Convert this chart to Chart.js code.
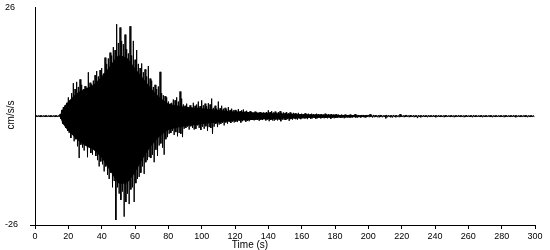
<!DOCTYPE html>
<html>
<head>
<meta charset="utf-8">
<script src="https://cdn.jsdelivr.net/npm/chart.js@4/dist/chart.umd.min.js"></script>
<style>
  html, body { margin: 0; padding: 0; background: #fff; }
  #wrap { width: 550px; height: 250px; }
</style>
</head>
<body>
<div id="wrap"><canvas id="accChart" width="550" height="250"></canvas></div>
<script>
// one sample pair per second: upper peak then lower peak (cm/s/s)
const upper = [
  0.2,0.2,0.2,0.2,0.2,0.2,0.2,0.2,0.2,0.2, 0.2,0.2,0.2,0.2,0.2,0.5,1.5,2.2,2.6,3.2,
  4.5,3.8,5.5,7.9,6.5,8.2,7.0,8.8,7.5,6.5, 7.2,6.8,10.5,8.0,7.6,8.5,9.8,10.8,9.5,11.0,
  11.5,10.2,14.0,12.5,13.8,15.2,14.5,16.5,15.8,22.0, 17.5,21.2,18.0,17.2,19.5,16.0,15.0,21.5,14.5,18.0,
  13.5,15.8,12.5,11.5,12.6,10.5,11.2,9.5,12.0,9.0, 8.5,7.0,7.5,6.5,7.1,10.6,5.5,5.0,4.8,4.5,
  3.5,3.0,3.2,4.0,3.8,4.5,3.5,5.9,4.2,2.8, 2.5,3.0,2.2,2.6,2.0,3.2,2.5,2.8,3.5,2.4,
  3.8,2.6,3.0,2.4,3.1,2.8,4.2,2.0,2.5,1.8, 3.5,1.9,2.5,1.8,2.0,1.6,2.2,1.5,1.8,1.4,
  1.5,1.3,1.7,1.2,1.4,1.6,1.1,1.3,1.0,1.2, 1.0,0.8,1.1,0.9,0.8,1.0,0.7,0.9,0.8,1.0,
  1.4,1.0,1.2,0.9,1.1,0.8,1.0,1.2,0.8,0.9, 0.8,1.0,0.7,0.9,0.6,0.8,0.7,0.6,0.8,0.5,
  0.6,0.5,0.7,0.5,0.6,0.4,0.6,0.5,0.4,0.6, 0.5,0.4,0.5,0.4,0.6,0.4,0.5,0.4,0.5,0.4,
  0.4,0.5,0.4,0.3,0.4,0.3,0.4,0.3,0.3,0.4, 0.3,0.3,0.5,0.3,0.3,0.2,0.3,0.3,0.2,0.3,
  0.3,0.5,0.25,0.3,0.25,0.2,0.25,0.3,0.25,0.2, 0.25,0.3,0.25,0.2,0.25,0.3,0.2,0.25,0.2,0.5,
  0.25,0.2,0.25,0.3,0.2,0.25,0.2,0.25,0.2,0.2, 0.25,0.2,0.2,0.25,0.2,0.2,0.25,0.2,0.2,0.25,
  0.2,0.2,0.25,0.2,0.2,0.2,0.25,0.2,0.2,0.2, 0.25,0.2,0.2,0.2,0.25,0.2,0.2,0.2,0.2,0.25,
  0.2,0.2,0.2,0.25,0.2,0.2,0.2,0.2,0.25,0.2, 0.2,0.2,0.2,0.25,0.2,0.2,0.2,0.2,0.2,0.2,
  0.2,0.2,0.25,0.2,0.2,0.2,0.2,0.25,0.2,0.2, 0.2,0.2,0.2,0.2,0.25,0.2,0.2,0.2,0.2,0.2
];
const lower = [
  -0.2,-0.2,-0.2,-0.2,-0.2,-0.2,-0.2,-0.2,-0.2,-0.2, -0.2,-0.2,-0.2,-0.2,-0.2,-0.6,-1.8,-2.0,-2.8,-3.5,
  -4.0,-5.2,-4.5,-6.0,-5.5,-7.2,-10.0,-6.8,-7.5,-8.2, -6.9,-9.8,-7.5,-8.8,-9.2,-8.0,-9.5,-10.5,-12.0,-10.8,
  -11.5,-13.2,-12.0,-14.0,-15.0,-13.5,-17.0,-15.5,-24.8,-17.0, -18.5,-20.0,-18.0,-24.0,-20.5,-18.5,-21.0,-17.5,-17.0,-20.5,
  -16.0,-15.0,-14.5,-13.5,-12.0,-13.8,-11.0,-10.5,-9.8,-10.0, -9.2,-11.0,-8.0,-9.5,-7.0,-6.5,-7.5,-9.2,-5.5,-5.0,
  -4.2,-4.0,-3.5,-4.5,-3.8,-4.8,-4.0,-4.2,-5.0,-3.0, -2.8,-2.5,-3.2,-2.4,-2.8,-3.2,-3.0,-2.2,-2.8,-3.3,
  -2.5,-3.0,-2.4,-3.5,-2.6,-2.8,-4.2,-2.5,-1.8,-2.6, -2.0,-1.8,-1.6,-2.2,-1.5,-1.8,-1.4,-1.6,-1.3,-1.5,
  -1.3,-1.4,-1.1,-1.5,-1.2,-1.0,-1.3,-1.1,-1.2,-0.9, -0.9,-1.0,-0.8,-0.9,-1.1,-0.8,-0.9,-0.7,-1.0,-0.8,
  -1.2,-0.9,-1.0,-1.1,-0.8,-1.0,-0.9,-1.2,-0.8,-0.9, -0.9,-0.7,-1.1,-0.7,-0.8,-0.6,-0.7,-0.8,-0.6,-0.7,
  -0.5,-0.6,-0.5,-0.7,-0.4,-0.6,-0.5,-0.4,-0.6,-0.5, -0.4,-0.5,-0.4,-0.5,-0.4,-0.5,-0.4,-0.6,-0.4,-0.5,
  -0.4,-0.4,-0.3,-0.4,-0.3,-0.5,-0.3,-0.3,-0.4,-0.3, -0.3,-0.2,-0.3,-0.3,-0.2,-0.3,-0.2,-0.3,-0.3,-0.2,
  -0.25,-0.2,-0.3,-0.25,-0.2,-0.25,-0.3,-0.2,-0.25,-0.2, -0.5,-0.25,-0.2,-0.25,-0.3,-0.2,-0.25,-0.2,-0.25,-0.2,
  -0.2,-0.25,-0.2,-0.2,-0.25,-0.2,-0.2,-0.25,-0.2,-0.45, -0.2,-0.25,-0.2,-0.2,-0.2,-0.25,-0.2,-0.2,-0.2,-0.2,
  -0.25,-0.2,-0.2,-0.2,-0.2,-0.25,-0.2,-0.2,-0.2,-0.2, -0.2,-0.25,-0.2,-0.2,-0.2,-0.2,-0.2,-0.25,-0.2,-0.2,
  -0.2,-0.2,-0.25,-0.2,-0.2,-0.2,-0.2,-0.2,-0.25,-0.2, -0.2,-0.2,-0.2,-0.2,-0.25,-0.2,-0.2,-0.2,-0.2,-0.2,
  -0.2,-0.25,-0.2,-0.2,-0.2,-0.2,-0.2,-0.2,-0.25,-0.2, -0.2,-0.2,-0.2,-0.2,-0.2,-0.25,-0.2,-0.2,-0.2,-0.2
];
// solid (dense) part of the trace, read as an envelope
const coreTimes = [15, 17, 20, 25, 30, 35, 40, 45, 50, 55, 60, 65, 70, 75, 80, 90, 100, 110, 120, 140, 160, 200];
const coreUpper = [0.2, 2.0, 3.5, 5.5, 6.5, 7.5, 9.5, 12.0, 14.5, 14.0, 11.5, 9.0, 6.5, 4.5, 3.0, 2.3, 1.9, 1.5, 1.1, 0.75, 0.45, 0.2];
const coreLower = [-0.2, -2.0, -3.5, -5.5, -7.0, -8.0, -10.0, -13.0, -16.0, -16.0, -13.5, -10.0, -7.0, -4.8, -3.3, -2.4, -1.9, -1.5, -1.1, -0.75, -0.45, -0.2];
const yTicks = [-26, 26];
const xMax = 300;
const xStep = 20;
const yTitle = 'cm/s/s';
const xTitle = 'Time (s)';

const points = [];
upper.forEach((u, i) => {
    points.push({x: i, y: u});
    points.push({x: i + 0.5, y: lower[i]});
});
const coreTop = coreTimes.map((t, i) => ({x: t, y: coreUpper[i]}));
const coreBottom = coreTimes.map((t, i) => ({x: t, y: coreLower[i]}));

const FONT = "'Liberation Sans', Arial, sans-serif";

const titles = {
    id: 'titles',
    afterDraw(chart){
        const c = chart.ctx;
        c.save();
        c.fillStyle = '#000';
        c.font = '10px ' + FONT;
        c.textAlign = 'center';
        c.textBaseline = 'middle';
        c.translate(11, 115);
        c.rotate(-Math.PI / 2);
        c.fillText(yTitle, 0, 0);
        c.restore();
        c.save();
        c.fillStyle = '#000';
        c.font = '10px ' + FONT;
        c.textAlign = 'center';
        c.textBaseline = 'alphabetic';
        c.fillText(xTitle, 250, 248);
        c.restore();
    }
};

new Chart(document.getElementById('accChart'), {
    type: 'line',
    data: {
        datasets: [{
            data: points,
            borderColor: '#000',
            borderWidth: 1,
            pointRadius: 0,
            tension: 0,
            fill: false
        }, {
            data: coreTop,
            borderWidth: 0,
            borderColor: 'rgba(0,0,0,0)',
            pointRadius: 0,
            tension: 0.2,
            fill: false
        }, {
            data: coreBottom,
            borderWidth: 0,
            borderColor: 'rgba(0,0,0,0)',
            backgroundColor: '#000',
            pointRadius: 0,
            tension: 0.2,
            fill: '-1'
        }]
    },
    plugins: [titles],
    options: {
        responsive: false,
        animation: false,
        events: [],
        layout: { padding: { left: 5, right: 15, top: 5, bottom: 0 } },
        plugins: { legend: { display: false }, tooltip: { enabled: false } },
        scales: {
            x: {
                type: 'linear',
                min: 0,
                max: xMax,
                afterFit: s => { s.height = 25; },
                ticks: {
                    stepSize: xStep,
                    color: '#000',
                    font: { size: 9, family: FONT },
                    padding: 2,
                    maxRotation: 0
                },
                grid: { drawOnChartArea: false, color: '#000', tickLength: 4 },
                border: { color: '#000', width: 1 }
            },
            y: {
                min: yTicks[0],
                max: yTicks[1],
                afterBuildTicks: s => { s.ticks = yTicks.map(v => ({value: v})); },
                afterFit: s => { s.width = 30; },
                ticks: {
                    color: '#000',
                    font: { size: 9, family: FONT },
                    crossAlign: 'far',
                    padding: 2
                },
                grid: {
                    drawOnChartArea: false,
                    tickLength: 5,
                    color: ctx => (ctx.tick && ctx.tick.value === yTicks[1]) ? 'rgba(0,0,0,0)' : '#000'
                },
                border: { color: '#000', width: 1 }
            }
        }
    }
});
</script>
</body>
</html>
